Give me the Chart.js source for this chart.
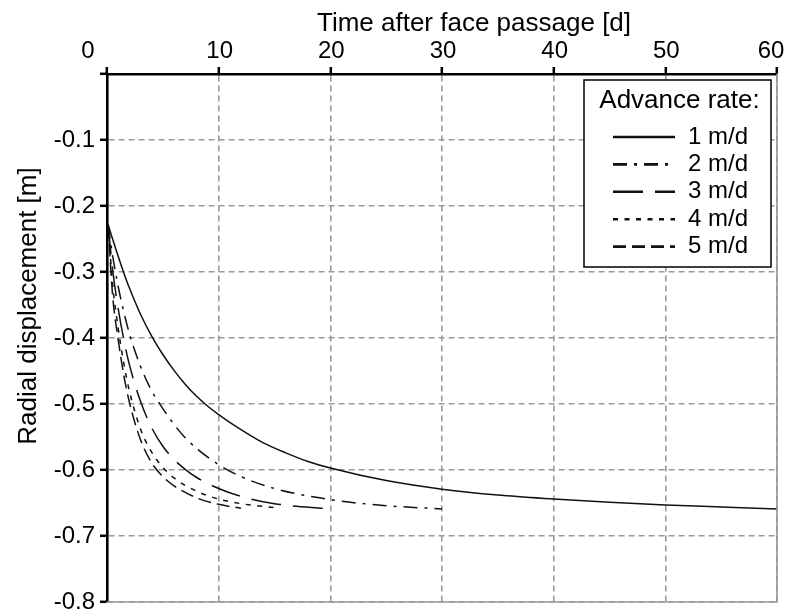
<!DOCTYPE html>
<html>
<head>
<meta charset="utf-8">
<script src="https://cdn.jsdelivr.net/npm/chart.js@4.4.0/dist/chart.umd.min.js"></script>
<style>
  html, body { margin: 0; padding: 0; background: #fff; }
</style>
</head>
<body>
<canvas id="chart" width="795" height="611"></canvas>
<script>
// radial displacement vs. time after face passage, one curve per advance rate
const rateLabels = ["1 m/d", "2 m/d", "3 m/d", "4 m/d", "5 m/d"];

const t1 = [0.1, 0.5, 1, 1.5, 2, 3, 4, 5, 6, 7, 8, 9, 10, 12, 14, 16, 18, 20, 25, 30, 35, 40, 45, 50, 55, 60];
const u1 = [-0.228, -0.250, -0.276, -0.301, -0.324, -0.364, -0.397, -0.425, -0.449, -0.470, -0.488, -0.503, -0.516, -0.539, -0.559, -0.574, -0.587, -0.597, -0.616, -0.629, -0.638, -0.644, -0.649, -0.653, -0.656, -0.659];

const t2 = [0.1, 0.5, 1, 1.5, 2, 3, 4, 5, 6, 7, 8, 10, 12, 15, 20, 25, 30];
const u2 = [-0.228, -0.275, -0.322, -0.360, -0.393, -0.443, -0.480, -0.507, -0.531, -0.551, -0.567, -0.592, -0.610, -0.628, -0.645, -0.654, -0.659];

const t3 = [0.1, 0.5, 1, 1.5, 2, 3, 4, 5, 6, 7, 8, 10, 12, 15, 20];
const u3 = [-0.228, -0.296, -0.355, -0.402, -0.440, -0.496, -0.536, -0.564, -0.584, -0.599, -0.611, -0.628, -0.640, -0.651, -0.659];

const t4 = [0.1, 0.5, 1, 1.5, 2, 3, 4, 5, 6, 8, 10, 12, 15];
const u4 = [-0.228, -0.318, -0.385, -0.438, -0.480, -0.538, -0.573, -0.596, -0.612, -0.632, -0.644, -0.651, -0.657];

const t5 = [0.1, 0.5, 1, 1.5, 2, 3, 4, 5, 6, 8, 10, 12];
const u5 = [-0.228, -0.335, -0.402, -0.456, -0.497, -0.554, -0.589, -0.610, -0.624, -0.642, -0.652, -0.658];

const xTicks = [0, 10, 20, 30, 40, 50, 60];
const yTicks = [0, -0.1, -0.2, -0.3, -0.4, -0.5, -0.6, -0.7, -0.8];

const xTitle = "Time after face passage [d]";
const yTitle = "Radial displacement [m]";
const legendTitle = "Advance rate:";

const FONT = "'Liberation Sans', Arial, Helvetica, sans-serif";
const INK = "#111";
const GRID = "#9a9a9a";

// line styles: solid, dash-dot, long dash, dotted, dashed
const dashes = [[], [14, 7, 3, 7], [30, 12], [5, 6.5], [13, 6]];

function toPoints(ts, us) {
  return ts.map((t, i) => ({ x: t, y: us[i] }));
}

const series = [[t1, u1], [t2, u2], [t3, u3], [t4, u4], [t5, u5]];

const datasets = series.map(([ts, us], i) => ({
  label: rateLabels[i],
  data: toPoints(ts, us),
  borderColor: INK,
  borderWidth: 1.5,
  borderDash: dashes[i],
  pointRadius: 0,
  fill: false,
  cubicInterpolationMode: "monotone",
}));

// x tick labels, axis titles, right/bottom frame and the legend box
const decorPlugin = {
  id: "decor",
  afterDraw(chart) {
    const ctx = chart.ctx;
    const area = chart.chartArea;
    const xs = chart.scales.x;
    ctx.save();

    // light frame on the right and bottom edges
    ctx.strokeStyle = GRID;
    ctx.lineWidth = 1.7;
    ctx.setLineDash([]);
    ctx.beginPath();
    ctx.moveTo(area.right, area.top);
    ctx.lineTo(area.right, area.bottom);
    ctx.lineTo(area.left, area.bottom);
    ctx.stroke();

    // x tick labels above the top axis
    ctx.fillStyle = "#000";
    ctx.font = "24px " + FONT;
    ctx.textAlign = "center";
    ctx.textBaseline = "alphabetic";
    const shift = { 0: -19, 60: -6 };
    xTicks.forEach(v => {
      const px = xs.getPixelForValue(v) + (shift[v] || 1);
      ctx.fillText(String(v), px, 58);
    });

    // axis titles
    ctx.font = "26px " + FONT;
    ctx.fillText(xTitle, 474, 31);
    ctx.save();
    ctx.translate(36, 306);
    ctx.rotate(-Math.PI / 2);
    ctx.fillText(yTitle, 0, 0);
    ctx.restore();

    // legend
    const bx = area.right - 193, by = area.top + 6, bw = 187, bh = 187;
    ctx.fillStyle = "#fff";
    ctx.fillRect(bx, by, bw, bh);
    ctx.strokeStyle = "#000";
    ctx.lineWidth = 1.5;
    ctx.strokeRect(bx, by, bw, bh);

    ctx.fillStyle = "#000";
    ctx.textBaseline = "middle";
    ctx.font = "26px " + FONT;
    ctx.textAlign = "center";
    ctx.fillText(legendTitle, bx + bw / 2 + 2, by + 21);

    ctx.font = "24px " + FONT;
    ctx.textAlign = "left";
    chart.data.datasets.forEach((ds, i) => {
      const y = by + 57 + i * 27.4;
      ctx.strokeStyle = INK;
      ctx.lineWidth = 2.6;
      ctx.setLineDash(ds.borderDash);
      ctx.beginPath();
      ctx.moveTo(bx + 29, y);
      ctx.lineTo(bx + 91, y);
      ctx.stroke();
      ctx.setLineDash([]);
      ctx.fillText(ds.label, bx + 104, y);
    });

    ctx.restore();
  },
};

const ctx = document.getElementById("chart").getContext("2d");
const chart = new Chart(ctx, {
  type: "line",
  data: { datasets },
  options: {
    responsive: false,
    devicePixelRatio: 1,
    animation: false,
    layout: { padding: { left: 0, top: 0, right: 18, bottom: 9 } },
    plugins: {
      legend: { display: false },
      tooltip: { enabled: false },
    },
    scales: {
      x: {
        type: "linear",
        position: "top",
        min: 0,
        max: 60,
        afterBuildTicks: s => { s.ticks = xTicks.map(v => ({ value: v })); },
        ticks: { display: false },
        grid: {
          color: GRID,
          lineWidth: 1.6,
          tickColor: "#000",
          tickWidth: 2.5,
          tickLength: 7,
        },
        border: { color: "#000", width: 2.6, dash: [6, 4] },
        afterFit: s => { s.height = 74; s.paddingLeft = 0; s.paddingRight = 0; },
      },
      y: {
        type: "linear",
        min: -0.8,
        max: 0,
        afterBuildTicks: s => { s.ticks = yTicks.map(v => ({ value: v })); },
        ticks: {
          color: "#000",
          padding: 5,
          font: { family: FONT, size: 24 },
          callback: v => (Math.abs(v) < 1e-9 ? "" : v.toFixed(1)),
        },
        grid: {
          color: GRID,
          lineWidth: 1.6,
          tickColor: "#000",
          tickWidth: 2.5,
          tickLength: 7,
        },
        border: { color: "#000", width: 2.6, dash: [6, 4] },
        afterFit: s => { s.width = 107; s.paddingTop = 0; s.paddingBottom = 0; },
      },
    },
  },
  plugins: [decorPlugin],
});
</script>
</body>
</html>
